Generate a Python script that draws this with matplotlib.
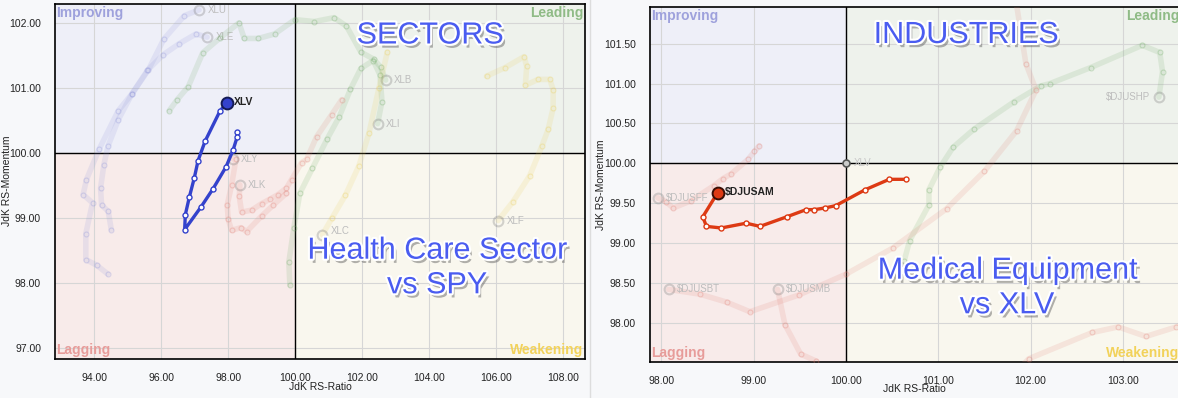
import matplotlib
matplotlib.use('Agg')
import matplotlib.pyplot as plt
import matplotlib.patheffects as pe
from matplotlib.patches import Rectangle
import numpy as np

plt.rcParams['font.family'] = ['Liberation Sans', 'DejaVu Sans']

# ---- left chart: sectors vs SPY ----
sec_xticks = [94, 96, 98, 100, 102, 104, 106, 108]
sec_yticks = [97, 98, 99, 100, 101, 102]

xlv_x = [98.27, 98.27, 98.15, 97.94, 97.55, 97.19, 96.70, 96.72, 96.84, 96.99, 97.10, 97.31, 97.75, 97.95]
xlv_y = [100.32, 100.25, 100.05, 99.79, 99.45, 99.17, 98.82, 99.05, 99.32, 99.62, 99.88, 100.18, 100.64, 100.77]

xlu_x = [94.40, 94.08, 93.75, 93.75, 93.95, 93.67, 93.77, 94.15, 94.72, 95.13, 95.61, 96.08, 96.69, 97.13]
xlu_y = [98.14, 98.27, 98.36, 98.76, 99.23, 99.36, 99.59, 100.06, 100.65, 100.91, 101.27, 101.75, 102.11, 102.20]
xle_x = [94.51, 94.42, 94.22, 94.19, 94.29, 94.41, 94.72, 95.13, 95.59, 96.06, 96.54, 97.04, 97.37]
xle_y = [98.82, 99.10, 99.20, 99.46, 99.82, 100.10, 100.51, 100.91, 101.27, 101.51, 101.68, 101.83, 101.78]
xlb_x = [96.24, 96.48, 96.81, 97.24, 97.76, 98.32, 98.48, 98.90, 99.39, 99.99, 100.57, 101.16, 101.53, 101.96, 102.35, 102.55, 102.70]
xlb_y = [100.65, 100.82, 101.02, 101.54, 101.77, 102.00, 101.76, 101.76, 101.83, 102.05, 102.02, 102.08, 101.95, 101.55, 101.44, 101.32, 101.12]
xli_x = [99.84, 99.81, 99.96, 100.14, 100.51, 100.96, 101.31, 101.65, 101.96, 102.33, 102.53, 102.59, 102.46]
xli_y = [97.97, 98.32, 98.85, 99.38, 99.76, 100.22, 100.55, 100.98, 101.30, 101.42, 101.20, 100.79, 100.45]
xlk_x = [101.39, 101.09, 100.64, 100.34, 100.19, 99.89, 99.74, 99.49, 99.25, 99.00, 98.70, 98.40, 98.33, 98.35]
xlk_y = [100.82, 100.59, 100.25, 99.90, 99.85, 99.59, 99.46, 99.36, 99.29, 99.22, 99.12, 99.09, 99.33, 99.51]
xly_x = [99.74, 99.35, 99.00, 98.55, 98.38, 98.10, 98.00, 97.97, 98.10, 98.23, 98.13]
xly_y = [99.38, 99.20, 99.03, 98.79, 98.85, 98.81, 98.98, 99.20, 99.50, 99.90, 99.91]
xlf_x = [105.71, 106.26, 106.83, 106.91, 106.87, 107.25, 107.60, 107.70, 107.70, 107.55, 107.36, 107.00, 106.50, 106.06]
xlf_y = [101.18, 101.31, 101.48, 101.33, 101.04, 101.13, 101.13, 100.97, 100.69, 100.36, 100.10, 99.65, 99.25, 98.96]
xlc_x = [102.75, 102.50, 102.20, 101.90, 101.50, 101.10, 100.81]
xlc_y = [101.55, 101.00, 100.30, 99.80, 99.35, 99.00, 98.74]

# ---- right chart: industries vs XLV ----
ind_xticks = [98, 99, 100, 101, 102, 103]
ind_yticks = [98.0, 98.5, 99.0, 99.5, 100.0, 100.5, 101.0, 101.5]

am_x = [100.65, 100.47, 100.21, 99.89, 99.77, 99.66, 99.57, 99.36, 99.07, 98.92, 98.65, 98.49, 98.45, 98.61]
am_y = [99.80, 99.80, 99.67, 99.47, 99.44, 99.42, 99.42, 99.33, 99.21, 99.25, 99.19, 99.21, 99.33, 99.63]

hp_x = [100.63, 100.69, 100.90, 100.90, 101.02, 101.16, 101.39, 101.82, 102.11, 102.21, 102.65, 103.21, 103.40, 103.43, 103.39]
hp_y = [98.77, 99.03, 99.48, 99.67, 99.95, 100.20, 100.43, 100.77, 100.97, 101.00, 101.20, 101.48, 101.39, 101.15, 100.83]
bt_x = [101.84, 101.95, 102.06, 101.85, 101.50, 101.09, 100.51, 100.00, 99.49, 98.96, 98.71, 98.42, 98.08]
bt_y = [102.05, 101.25, 100.92, 100.41, 99.90, 99.43, 98.94, 98.61, 98.35, 98.14, 98.26, 98.36, 98.42]
mb_x = [99.68, 99.51, 99.34, 99.26]
mb_y = [97.52, 97.61, 97.98, 98.42]
ff_x = [99.06, 99.01, 98.94, 98.76, 98.67, 98.57, 98.32, 98.13, 98.05, 97.96]
ff_y = [100.22, 100.15, 100.05, 99.87, 99.81, 99.72, 99.53, 99.44, 99.52, 99.57]
br_x = [101.90, 101.98, 102.67, 102.95, 103.25, 103.58]
br_y = [97.45, 97.55, 97.88, 97.95, 97.83, 97.95]

W, H = 1178, 398
fig = plt.figure(figsize=(W / 100, H / 100), dpi=100)
fig.patch.set_facecolor('#f7f8fa')

BLUE_TXT = '#4a5cf0'
title_fx = [pe.withSimplePatchShadow(offset=(2, -3), shadow_rgbFace='#555555', alpha=0.45),
            pe.withStroke(linewidth=3, foreground='white')]


def rrg_axes(rect, xlim, ylim, xticks, yticks, fmt):
    ax = fig.add_axes(rect)
    ax.set_xlim(*xlim)
    ax.set_ylim(*ylim)
    ax.add_patch(Rectangle((xlim[0], 100), 100 - xlim[0], ylim[1] - 100, color='#eeeff8', zorder=0))
    ax.add_patch(Rectangle((100, 100), xlim[1] - 100, ylim[1] - 100, color='#eef2ec', zorder=0))
    ax.add_patch(Rectangle((xlim[0], ylim[0]), 100 - xlim[0], 100 - ylim[0], color='#f8ebea', zorder=0))
    ax.add_patch(Rectangle((100, ylim[0]), xlim[1] - 100, 100 - ylim[0], color='#f9f7ee', zorder=0))
    ax.set_xticks(xticks)
    ax.set_yticks(yticks)
    ax.set_xticklabels([fmt % v for v in xticks])
    ax.set_yticklabels([fmt % v for v in yticks])
    ax.tick_params(length=0, labelsize=7.5, colors='#222222', pad=10)
    ax.grid(color='#d6d6d6', lw=0.8, zorder=1)
    ax.axvline(100, color='black', lw=1, zorder=2)
    ax.axhline(100, color='black', lw=1, zorder=2)
    for s in ax.spines.values():
        s.set_linewidth(1.2)
    kw = dict(fontsize=10, fontweight='bold', transform=ax.transAxes, zorder=3)
    ax.text(0.003, 0.995, 'Improving', color='#9ea1dc', ha='left', va='top', **kw)
    ax.text(0.997, 0.995, 'Leading', color='#8fbb86', ha='right', va='top', **kw)
    ax.text(0.003, 0.005, 'Lagging', color='#e79c9a', ha='left', va='bottom', **kw)
    ax.text(0.997, 0.005, 'Weakening', color='#f2d25a', ha='right', va='bottom', **kw)
    return ax


def faded(ax, xs, ys, color, label=None, left=False, dy=0):
    ax.plot(xs, ys, color=color, lw=4, alpha=0.15, solid_capstyle='round', zorder=3)
    ax.plot(xs[:-1], ys[:-1], 'o', ms=3.5, mfc='none', mec=color, mew=0.8, alpha=0.3, zorder=3)
    ax.plot(xs[-1], ys[-1], 'o', ms=7, mfc='none', mec='#777777', mew=1.5, alpha=0.3, zorder=3)
    if label:
        ax.annotate(label, (xs[-1], ys[-1]), xytext=(-6 if left else 6, dy), textcoords='offset points',
                    ha='right' if left else 'left', va='center', fontsize=7, color='#bdbdbd', zorder=3)


def trail(ax, xs, ys, color, edge, label):
    ax.plot(xs, ys, color=color, lw=2.4, solid_capstyle='round', zorder=5)
    ax.plot(xs[:-1], ys[:-1], 'o', ms=3.6, mfc='white', mec=color, mew=1.0, zorder=6)
    ax.plot(xs[-1], ys[-1], 'o', ms=8.5, mfc=color, mec=edge, mew=1.4, zorder=7)
    ax.annotate(label, (xs[-1], ys[-1]), xytext=(5, 0.5), textcoords='offset points',
                ha='left', va='center', fontsize=7.5, fontweight='bold', color='#222222', zorder=7)


# left panel
ax1 = rrg_axes([55 / W, 1 - 359 / H, 530 / W, 355 / H], (92.83, 108.65), (96.83, 102.29),
               sec_xticks, sec_yticks, '%.2f')
faded(ax1, xlu_x, xlu_y, '#8a90d8', 'XLU')
faded(ax1, xle_x, xle_y, '#8a90d8', 'XLE')
faded(ax1, xlb_x, xlb_y, '#6aa860', 'XLB')
faded(ax1, xli_x, xli_y, '#6aa860', 'XLI')
faded(ax1, xlk_x, xlk_y, '#e07a70', 'XLK')
faded(ax1, xly_x, xly_y, '#e07a70', 'XLY')
faded(ax1, xlf_x, xlf_y, '#e8cc50', 'XLF')
faded(ax1, xlc_x, xlc_y, '#e8cc50', 'XLC', dy=3)
trail(ax1, xlv_x, xlv_y, '#3442cc', '#141a55', 'XLV')

# right panel
ax2 = rrg_axes([649.5 / W, 1 - 362 / H, (W - 649.5 + 3) / W, 355 / H], (97.873, 103.63), (97.51, 101.96),
               ind_xticks, ind_yticks, '%.2f')
ax2.spines['right'].set_visible(False)
faded(ax2, hp_x, hp_y, '#6aa860', '$DJUSHP', left=True)
faded(ax2, bt_x, bt_y, '#e07a70', '$DJUSBT')
faded(ax2, mb_x, mb_y, '#e07a70', '$DJUSMB')
faded(ax2, ff_x, ff_y, '#e07a70', '$DJUSFF')
ax2.plot(br_x, br_y, color='#e07a70', lw=4, alpha=0.15, zorder=3)
ax2.plot(br_x[1:], br_y[1:], 'o', ms=3.5, mfc='none', mec='#e07a70', mew=0.8, alpha=0.3, zorder=3)
ax2.plot(100, 100, 'o', ms=5, mfc='#cccccc', mec='#555555', mew=1.2, zorder=4)
ax2.annotate('XLV', (100, 100), xytext=(6, 0), textcoords='offset points', va='center',
             fontsize=7, color='#c8c8c8', zorder=4)
trail(ax2, am_x, am_y, '#dd3a14', '#3a0e05', '$DJUSAM')

# big overlay titles
big = dict(fontsize=22, color=BLUE_TXT, ha='center', va='center', path_effects=title_fx, zorder=10)
fig.text(430 / W, 1 - 35.5 / H, 'SECTORS', **big)
fig.text(437 / W, 1 - 268 / H, 'Health Care Sector\nvs SPY', linespacing=1.2, **big)
fig.text(966 / W, 1 - 35 / H, 'INDUSTRIES', **big)
fig.text(1007 / W, 1 - 288 / H, 'Medical Equipment\nvs XLV', linespacing=1.2, **big)

# axis labels
lab = dict(fontsize=7.5, color='#222222', ha='center', va='center')
fig.text(320 / W, 1 - 387 / H, 'JdK RS-Ratio', **lab)
fig.text(914 / W, 1 - 389 / H, 'JdK RS-Ratio', **lab)
fig.text(7 / W, 1 - 181 / H, 'JdK RS-Momentum', rotation=90, **lab)
fig.text(601 / W, 1 - 185 / H, 'JdK RS-Momentum', rotation=90, **lab)

# separator between the two screenshots
fig.add_artist(plt.Line2D([590 / W, 590 / W], [0.0, 1.0], color='#dddddd', lw=1))

plt.savefig('out.png', dpi=100, facecolor=fig.get_facecolor())
